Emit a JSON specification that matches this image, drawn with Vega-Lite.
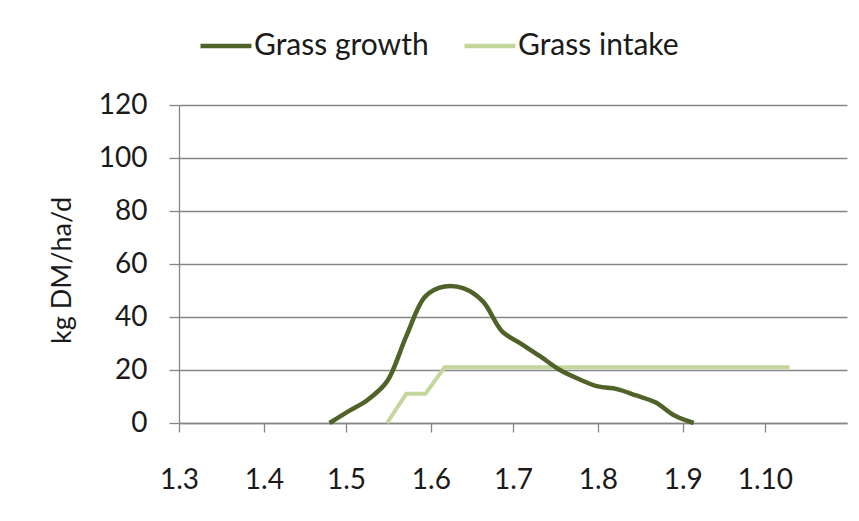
{
  "$schema": "https://vega.github.io/schema/vega-lite/v6.json",
  "autosize": {"type": "none"},
  "width": 668,
  "height": 318,
  "padding": {"left": 179, "top": 105, "right": 12, "bottom": 98},
  "background": "white",
  "config": {
    "font": "Lato",
    "view": {"stroke": null},
    "axis": {
      "labelFont": "Lato",
      "labelFontSize": 28,
      "labelColor": "#1a1a1a",
      "titleFont": "Lato",
      "titleColor": "#1a1a1a",
      "titleFontWeight": "normal",
      "domainColor": "#868686",
      "tickColor": "#868686",
      "gridColor": "#868686",
      "domainWidth": 1.3,
      "tickWidth": 1.3,
      "gridWidth": 1.3
    }
  },
  "data": {
    "values": [
      {"date": "2011-04-25T00:00", "series": "Grass growth", "value": 0},
      {"date": "2011-05-02T00:00", "series": "Grass growth", "value": 4.5},
      {"date": "2011-05-09T00:00", "series": "Grass growth", "value": 8.8},
      {"date": "2011-05-16T00:00", "series": "Grass growth", "value": 15.7},
      {"date": "2011-05-23T00:00", "series": "Grass growth", "value": 32.7},
      {"date": "2011-05-30T00:00", "series": "Grass growth", "value": 47.8},
      {"date": "2011-06-06T00:00", "series": "Grass growth", "value": 51.5},
      {"date": "2011-06-13T00:00", "series": "Grass growth", "value": 50.8},
      {"date": "2011-06-20T00:00", "series": "Grass growth", "value": 45.9},
      {"date": "2011-06-27T00:00", "series": "Grass growth", "value": 34.6},
      {"date": "2011-07-04T00:00", "series": "Grass growth", "value": 29.9},
      {"date": "2011-07-11T00:00", "series": "Grass growth", "value": 25.1},
      {"date": "2011-07-18T00:00", "series": "Grass growth", "value": 20.1},
      {"date": "2011-07-25T00:00", "series": "Grass growth", "value": 16.6},
      {"date": "2011-08-01T00:00", "series": "Grass growth", "value": 13.8},
      {"date": "2011-08-08T00:00", "series": "Grass growth", "value": 12.8},
      {"date": "2011-08-15T00:00", "series": "Grass growth", "value": 10.4},
      {"date": "2011-08-22T00:00", "series": "Grass growth", "value": 7.8},
      {"date": "2011-08-29T00:00", "series": "Grass growth", "value": 2.8},
      {"date": "2011-09-05T00:00", "series": "Grass growth", "value": 0},
      {"date": "2011-05-16T00:00", "series": "Grass intake", "value": 0},
      {"date": "2011-05-23T00:00", "series": "Grass intake", "value": 11},
      {"date": "2011-05-30T00:00", "series": "Grass intake", "value": 11},
      {"date": "2011-06-06T00:00", "series": "Grass intake", "value": 21},
      {"date": "2011-06-13T00:00", "series": "Grass intake", "value": 21},
      {"date": "2011-06-20T00:00", "series": "Grass intake", "value": 21},
      {"date": "2011-06-27T00:00", "series": "Grass intake", "value": 21},
      {"date": "2011-07-04T00:00", "series": "Grass intake", "value": 21},
      {"date": "2011-07-11T00:00", "series": "Grass intake", "value": 21},
      {"date": "2011-07-18T00:00", "series": "Grass intake", "value": 21},
      {"date": "2011-07-25T00:00", "series": "Grass intake", "value": 21},
      {"date": "2011-08-01T00:00", "series": "Grass intake", "value": 21},
      {"date": "2011-08-08T00:00", "series": "Grass intake", "value": 21},
      {"date": "2011-08-15T00:00", "series": "Grass intake", "value": 21},
      {"date": "2011-08-22T00:00", "series": "Grass intake", "value": 21},
      {"date": "2011-08-29T00:00", "series": "Grass intake", "value": 21},
      {"date": "2011-09-05T00:00", "series": "Grass intake", "value": 21},
      {"date": "2011-09-12T00:00", "series": "Grass intake", "value": 21},
      {"date": "2011-09-19T00:00", "series": "Grass intake", "value": 21},
      {"date": "2011-09-26T00:00", "series": "Grass intake", "value": 21},
      {"date": "2011-10-03T00:00", "series": "Grass intake", "value": 21},
      {"date": "2011-10-10T00:00", "series": "Grass intake", "value": 21}
    ]
  },
  "encoding": {
    "x": {
      "field": "date",
      "type": "temporal",
      "scale": {
        "domain": [
          {"year": 2011, "month": 3, "date": 1},
          {"year": 2011, "month": 10, "date": 31}
        ],
        "nice": false
      },
      "axis": {
        "title": null,
        "grid": false,
        "format": "%-d.%-m",
        "values": [
          {"year": 2011, "month": 3, "date": 1},
          {"year": 2011, "month": 4, "date": 1},
          {"year": 2011, "month": 5, "date": 1},
          {"year": 2011, "month": 6, "date": 1},
          {"year": 2011, "month": 7, "date": 1},
          {"year": 2011, "month": 8, "date": 1},
          {"year": 2011, "month": 9, "date": 1},
          {"year": 2011, "month": 10, "date": 1}
        ],
        "tickSize": 9,
        "labelPadding": 34,
        "labelFlush": false,
        "labelOverlap": false
      }
    },
    "y": {
      "field": "value",
      "type": "quantitative",
      "scale": {"domain": [0, 120], "nice": false, "zero": true},
      "axis": {
        "title": "kg DM/ha/d",
        "titleFontSize": 27,
        "titleAngle": 270,
        "titleBaseline": "middle",
        "titleAlign": "center",
        "titleX": -117,
        "titleY": 165,
        "values": [0, 20, 40, 60, 80, 100, 120],
        "tickSize": 10,
        "labelPadding": 22,
        "grid": true
      }
    },
    "color": {
      "field": "series",
      "type": "nominal",
      "scale": {
        "domain": ["Grass growth", "Grass intake"],
        "range": ["#4f6228", "#c3d69b"]
      },
      "legend": {
        "title": null,
        "orient": "none",
        "direction": "horizontal",
        "legendX": 19,
        "legendY": -87,
        "padding": 0,
        "symbolType": "stroke",
        "symbolSize": 2600,
        "symbolStrokeWidth": 4.5,
        "labelFont": "Lato",
        "labelFontSize": 30,
        "labelColor": "#1a1a1a",
        "labelOffset": 0,
        "labelLimit": 400,
        "columnPadding": 26
      }
    }
  },
  "layer": [
    {
      "transform": [{"filter": "datum.series === 'Grass intake'"}],
      "mark": {"type": "line", "strokeWidth": 4, "interpolate": "linear"}
    },
    {
      "transform": [{"filter": "datum.series === 'Grass growth'"}],
      "mark": {"type": "line", "strokeWidth": 4.5, "interpolate": "catmull-rom"}
    }
  ]
}
